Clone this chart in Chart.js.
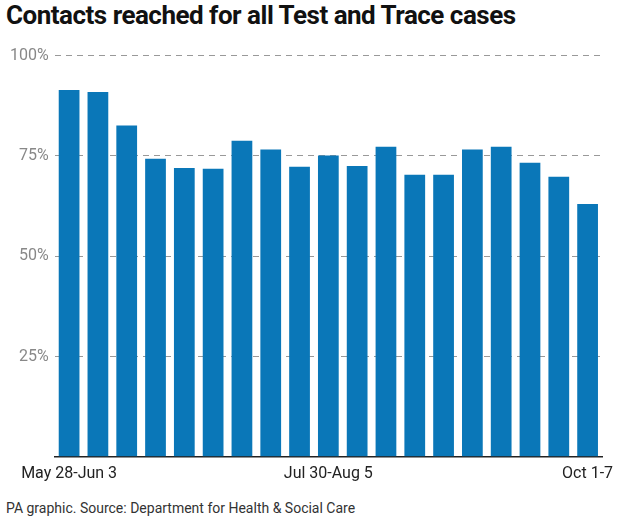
<!DOCTYPE html>
<html><head><meta charset="utf-8">
<script src="https://cdn.jsdelivr.net/npm/chart.js@4"></script>
<style>
body{margin:0;background:#fff;font-family:Roboto,"Liberation Sans",sans-serif;}
#t{position:absolute;left:6px;top:0px;font-size:26px;font-weight:bold;color:#111;letter-spacing:-0.5px}
#f{position:absolute;left:6px;top:500px;font-size:14px;color:#333}
#w{position:absolute;left:0;top:40px;width:640px;height:452px}
</style></head><body>
<div id="t">Contacts reached for all Test and Trace cases</div>
<div id="w"><canvas id="c"></canvas></div>
<div id="f">PA graphic. Source: Department for Health &amp; Social Care</div>
<script>
const categories=["May 28-Jun 3","Jun 4-10","Jun 11-17","Jun 18-24","Jun 25-Jul 1","Jul 2-8","Jul 9-15","Jul 16-22","Jul 23-29","Jul 30-Aug 5","Aug 6-12","Aug 13-19","Aug 20-26","Aug 27-Sep 2","Sep 3-9","Sep 10-16","Sep 17-23","Sep 24-30","Oct 1-7"];
const values=[91.4,90.9,82.6,74.3,72.0,71.8,78.8,76.6,72.3,75.1,72.5,77.3,70.3,70.3,76.6,77.3,73.3,69.8,63.0];
const shownLabels=[0,9,18];
const yTicks=[0,25,50,75,100];
new Chart(document.getElementById('c'),{type:'bar',
data:{labels:categories,datasets:[{data:values,backgroundColor:'#0a77b8',categoryPercentage:0.72,barPercentage:1}]},
options:{responsive:true,maintainAspectRatio:false,animation:false,
layout:{padding:{left:4,right:38,top:0,bottom:0}},
plugins:{legend:{display:false},tooltip:{enabled:false}},
scales:{
x:{grid:{display:false,drawTicks:false},border:{color:'#222',width:1.5},
 ticks:{autoSkip:false,maxRotation:0,padding:8,color:'#222',font:{size:16,family:'Roboto'},
 callback:(v,i)=>shownLabels.includes(i)?categories[i]:''}},
y:{min:0,max:100,afterBuildTicks:a=>{a.ticks=yTicks.map(v=>({value:v}));},
 grid:{color:'#999',drawTicks:false},border:{display:false,dash:[6,5]},
 ticks:{padding:6,color:'#888',font:{size:16,family:'Roboto'},callback:v=>v===0?'':v+'%'}}
}}});
</script></body></html>
